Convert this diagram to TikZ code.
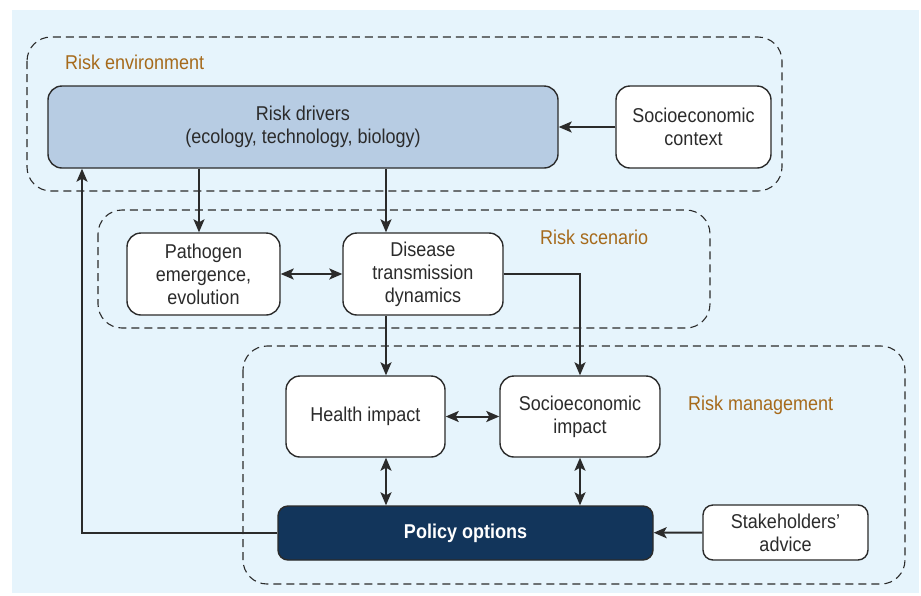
\documentclass[tikz,border=0pt]{standalone}
\usepackage{fontspec}
\setmainfont[FakeStretch=0.9]{Liberation Sans}
\usetikzlibrary{arrows.meta}

\definecolor{bgblue}{HTML}{E6F4FC}
\definecolor{driverblue}{HTML}{B7CCE3}
\definecolor{policyblue}{HTML}{12355B}
\definecolor{linegray}{HTML}{2B2B2B}
\definecolor{labelbrown}{HTML}{A66A1B}

\begin{document}
\begin{tikzpicture}[
    x=1pt, y=-1pt,
    box/.style={draw=linegray, line width=1.4pt, rounded corners=14pt, fill=white,
                text=linegray, align=center, inner sep=0pt},
    group/.style={draw=linegray, line width=1.1pt, dash pattern=on 8pt off 5pt, rounded corners=24pt},
    tag/.style={text=labelbrown, anchor=west, inner sep=0pt},
    conn/.style={draw=linegray, line width=2pt},
    >={Stealth[length=13pt,width=11pt,inset=3pt]},
    font=\fontsize{20}{23}\selectfont
]
\useasboundingbox (0,0) rectangle (921,595);
\fill[bgblue] (12,10) rectangle (919,593);

% Groups
\draw[group] (27,37) rectangle (782,191);
\draw[group] (98,210) rectangle (710,328);
\draw[group] (243,346) rectangle (905,584);
\node[tag] (envtag) at (65,62) {Risk environment};
\node[tag] (scentag) at (540,237) {Risk scenario};
\node[tag] (mantag) at (688,405) {Risk management};

% Risk environment
\node[box, fill=driverblue, minimum width=510pt, minimum height=82pt] (drivers) at (303,127)
    {Risk drivers\\(ecology, technology, biology)};
\node[box, minimum width=155pt, minimum height=82pt] (context) at (693.5,127)
    {Socioeconomic\\context};

% Risk scenario
\node[box, minimum width=153pt, minimum height=82pt] (pathogen) at (203.5,274)
    {Pathogen\\emergence,\\evolution};
\node[box, minimum width=160pt, minimum height=82pt] (disease) at (423,274)
    {Disease\\transmission\\dynamics};

% Risk management
\node[box, minimum width=159pt, minimum height=81pt] (health) at (365.5,416.5)
    {Health impact};
\node[box, minimum width=160pt, minimum height=81pt] (socio) at (580,416.5)
    {Socioeconomic\\impact};
\node[box, fill=policyblue, text=white, font=\fontsize{20}{23}\selectfont\bfseries,
      rounded corners=10pt, minimum width=375pt, minimum height=54pt] (policy) at (465.5,533)
    {Policy options};
\node[box, rounded corners=10pt, minimum width=165pt, minimum height=55pt] (advice) at (785.5,532.5)
    {Stakeholders'\\advice};

% Connections
\coordinate (col) at (386,0);
\coordinate (left) at (199,0);
\coordinate (back) at (82,0);
\draw[conn, ->] (context) -- (drivers);
\draw[conn, ->] (drivers.south -| left) -- (pathogen.north -| left);
\draw[conn, ->] (drivers.south -| col) -- (disease.north -| col);
\draw[conn, <->] (pathogen) -- (disease);
\draw[conn, ->] (disease.south -| col) -- (health.north -| col);
\draw[conn, ->] (disease.east) -| (socio.north);
\draw[conn, <->] (health) -- (socio);
\draw[conn, <->] (health.south -| col) -- (policy.north -| col);
\draw[conn, <->] (socio.south) -- (policy.north -| socio.south);
\draw[conn, ->] (advice) -- (policy);
\draw[conn, ->] (policy.west) -| (drivers.south -| back);
\end{tikzpicture}
\end{document}
